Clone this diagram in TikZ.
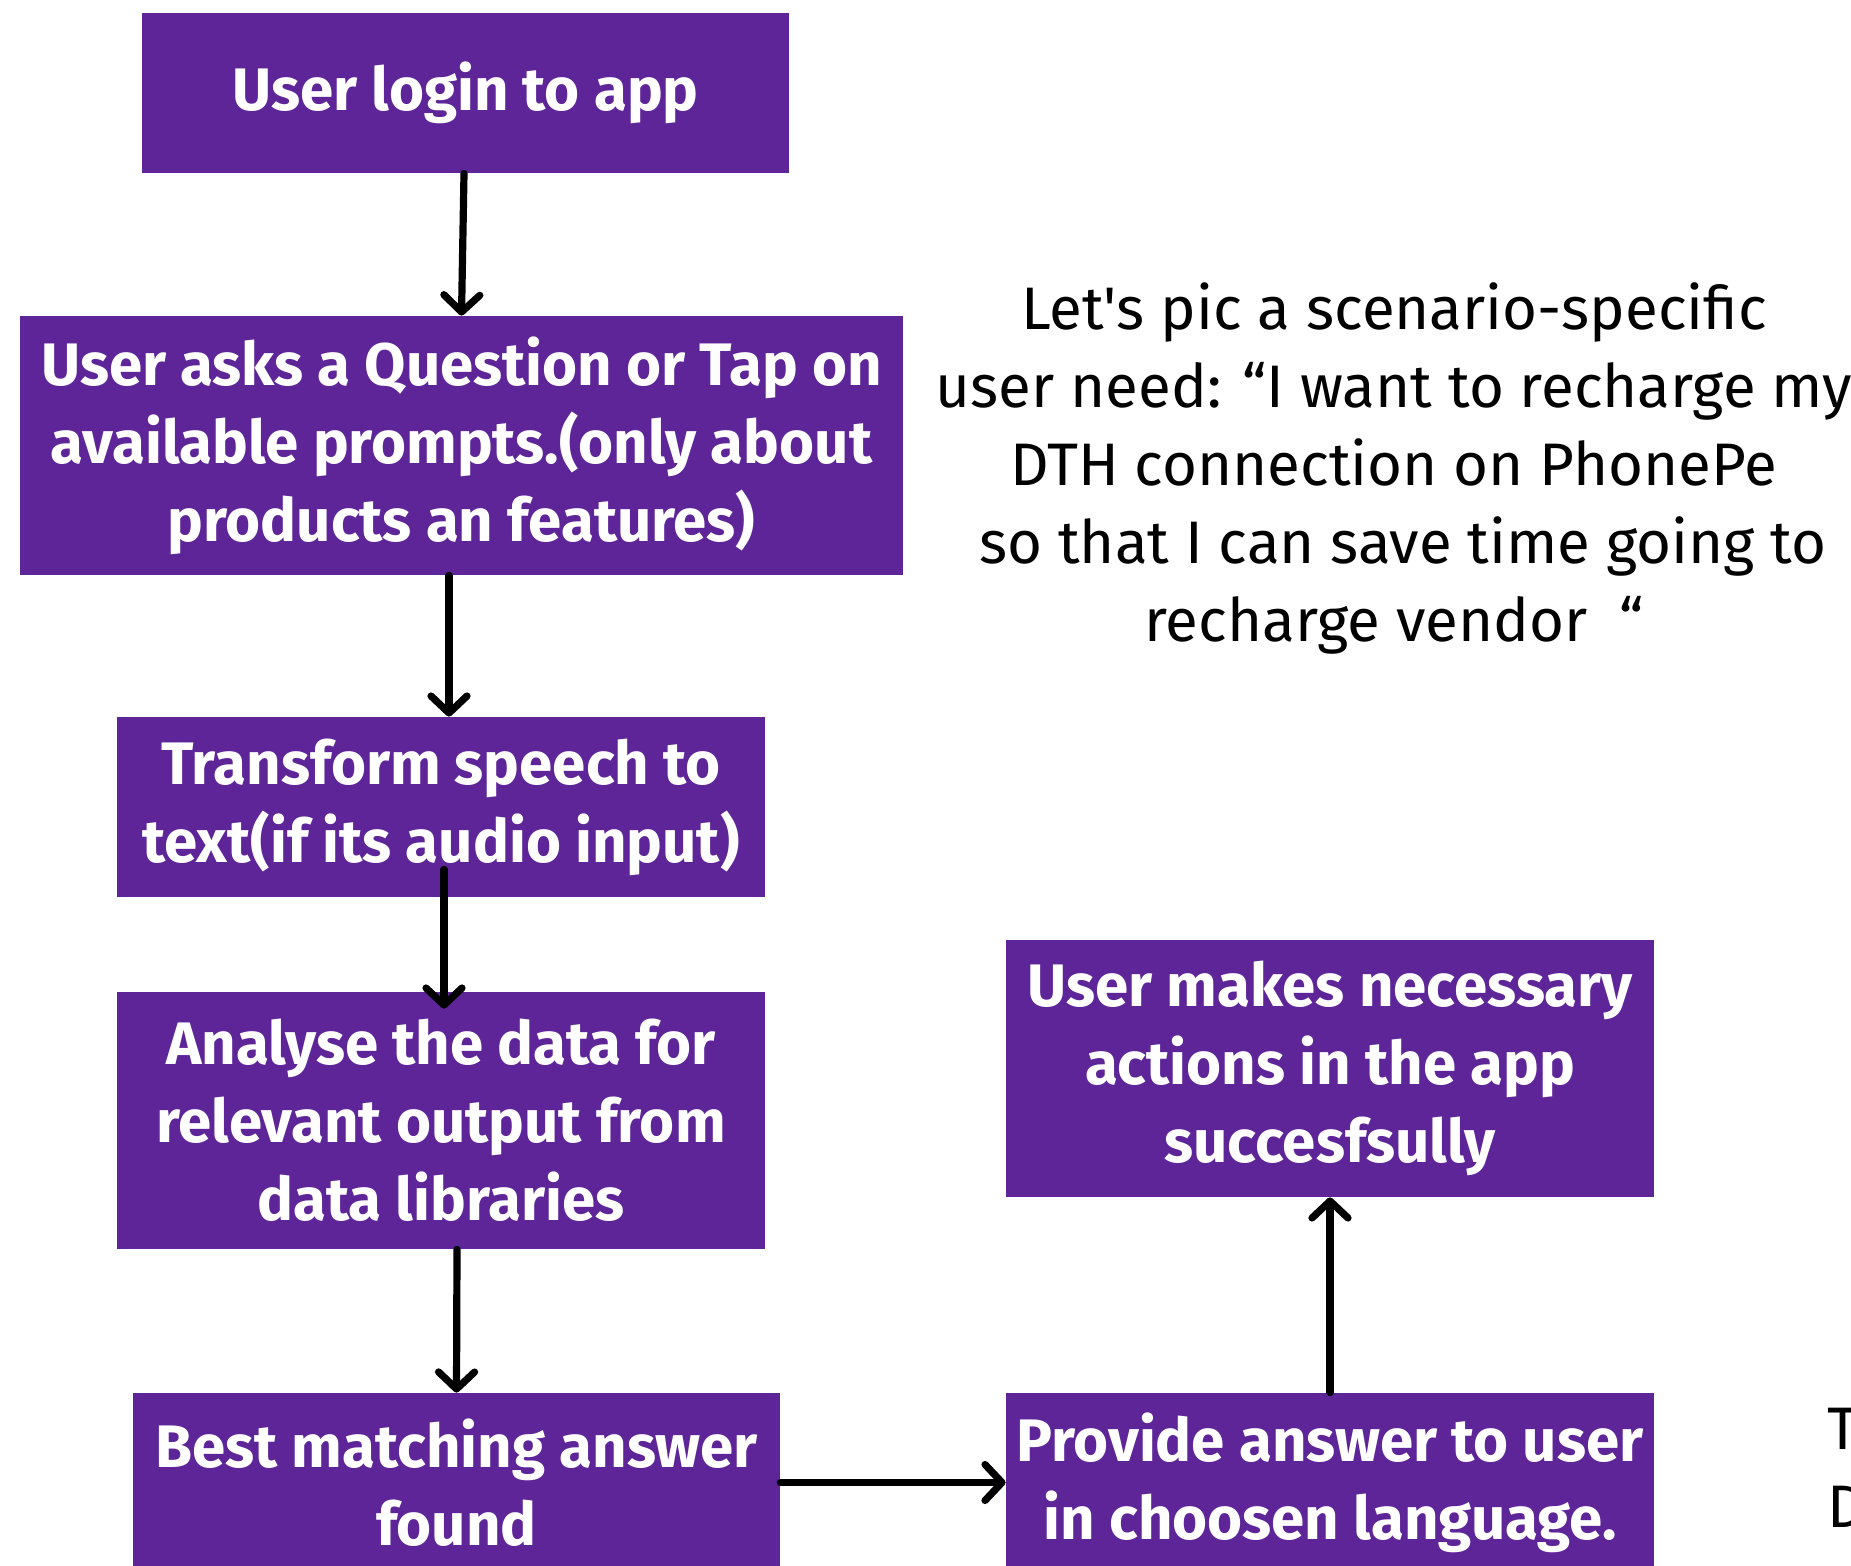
\documentclass[tikz,border=0pt]{standalone}
\usepackage{fontspec}
\setmainfont{Fira Sans}
\usetikzlibrary{arrows.meta}
\definecolor{boxpurple}{RGB}{94,37,153}
\begin{document}
\begin{tikzpicture}[x=0.5pt,y=-0.5pt,
  flowbox/.style={rectangle, fill=boxpurple, text=white, inner sep=0pt,
    align=center, font=\fontsize{30}{39}\selectfont\bfseries},
  note/.style={align=center, font=\fontsize{30}{39}\selectfont, text=black},
  arr/.style={line width=3.6pt, line cap=round,
    -{Straight Barb[length=8.5pt,width=18pt,line cap=round,line join=round]}}]
  \useasboundingbox (0,0) rectangle (1851,1566);
  \fill[white] (0,0) rectangle (1851,1566);

  % process steps
  \node[flowbox, minimum width=323.5pt, minimum height=80pt] (b1) at (465.5,93)
    {User login to app};
  \node[flowbox, minimum width=441.5pt, minimum height=129.5pt] (b2) at (461.5,445.5)
    {User asks a Question or Tap on\\available prompts.(only about\\products an features)};
  \node[flowbox, minimum width=324pt, minimum height=90pt] (b3) at (441,807)
    {Transform speech to\\text(if its audio input)};
  \node[flowbox, minimum width=324pt, minimum height=128.5pt] (b4) at (441,1120.5)
    {Analyse the data for\\relevant output from\\data libraries};
  \node[flowbox, minimum width=323.5pt, minimum height=89.5pt] (b5) at (456.5,1482.5)
    {Best matching answer\\found};
  \node[flowbox, minimum width=324pt, minimum height=89.5pt] (b6) at (1330,1482.5)
    {Provide answer to user\\in choosen language.};
  \node[flowbox, minimum width=324pt, minimum height=128.5pt] (b7) at (1330,1068.5)
    {User makes necessary\\actions in the app\\succesfsully};

  % scenario text
  \node[note] (scenario) at (1394,468)
    {Let\textquotesingle s pic a scenario-specific\\user need: “I want to recharge my\\DTH connection on PhonePe\\\hspace*{0.3em}so that I can save time going to\\recharge vendor\ \ “};
  \node[note, align=left, anchor=west] (edge) at (1820,1468) {T\\D};

  % connectors
  \draw[arr] ([xshift=-0.75pt]b1.south) -- (b2.north);
  \draw[arr] ([xshift=-6.25pt]b2.south) -- ([xshift=4pt]b3.north);
  \draw[arr] ([shift={(1.5pt,14pt)}]b3.south) -- ([shift={(1.5pt,-8.5pt)}]b4.north);
  \draw[arr] ([xshift=8pt]b4.south) -- (b5.north);
  \draw[arr] (b5.east) -- (b6.west);
  \draw[arr] (b6.north) -- (b7.south);
\end{tikzpicture}
\end{document}
